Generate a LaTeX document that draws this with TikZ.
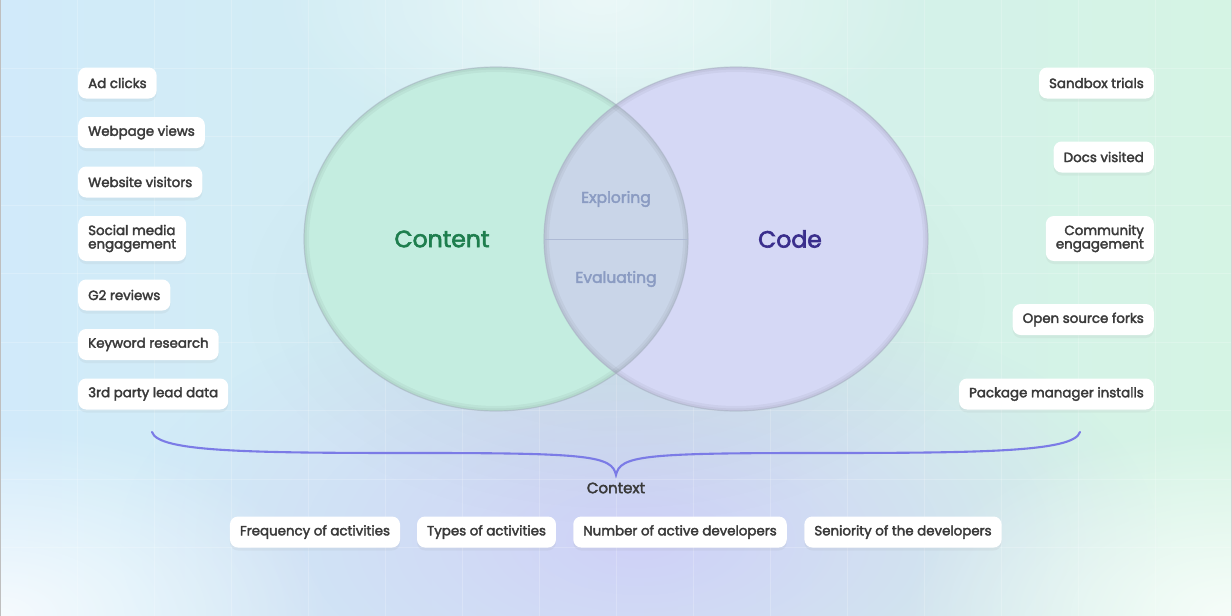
\documentclass[tikz,border=0pt]{standalone}
\usepackage{fontspec}
\setmainfont{Poppins}
\newfontfamily\medfont[FakeBold=2.6]{Poppins}
\usetikzlibrary{positioning,shadows,fadings}

\tikzfading[name=softblob, inner color=transparent!0, outer color=transparent!100]

\definecolor{bgblue}{HTML}{D1EAFA}
\definecolor{bggreen}{HTML}{D5F4E4}
\definecolor{bglav}{HTML}{CFCFF8}
\definecolor{contentfill}{HTML}{C4EDE0}
\definecolor{codefill}{HTML}{D5D8F5}
\definecolor{lensfill}{HTML}{C9D5E8}
\definecolor{rimgray}{HTML}{A3ADBD}
\definecolor{contentgreen}{HTML}{1E7E4E}
\definecolor{codeindigo}{HTML}{3A2E8C}
\definecolor{stagegray}{HTML}{8A9BC2}
\definecolor{tagtext}{HTML}{3A3A3A}
\definecolor{bracecol}{HTML}{7B7BE6}

\begin{document}
\begin{tikzpicture}[x=1pt, y=-1pt, >=stealth,
		tag/.style={fill=white, rounded corners=8pt, minimum height=31pt, inner xsep=10pt, inner ysep=3pt,
			font=\medfont\fontsize{13.4}{13.5}\selectfont, text=tagtext,
			drop shadow={opacity=0.08, shadow xshift=0pt, shadow yshift=-3pt}},
		tagtwo/.style={tag, minimum height=45pt},
		stage/.style={font=\medfont\fontsize{15.5}{16}\selectfont, text=stagegray},
		setname/.style={font=\medfont\fontsize{23.5}{26}\selectfont}]
	
	% --- 1. background ---
	\useasboundingbox (0,0) rectangle (1232,616);
	\shade[left color=bgblue, right color=bggreen] (0,0) rectangle (1232,616);
	\fill[white, opacity=0.55, path fading=softblob] (600,0) ellipse [x radius=330pt, y radius=160pt];
	\fill[bglav, opacity=0.95, path fading=softblob] (640,540) ellipse [x radius=520pt, y radius=260pt];
	\fill[white, opacity=0.8, path fading=softblob] (0,616) ellipse [x radius=330pt, y radius=190pt];
	\fill[white, opacity=0.8, path fading=softblob] (1232,616) ellipse [x radius=330pt, y radius=190pt];
	% faint grid
	\foreach \gx in {1,...,15}
		\draw[white, opacity=0.2, line width=0.8pt] (77*\gx,0) -- (77*\gx,616);
	\foreach \gy in {1,...,8}
		\draw[white, opacity=0.2, line width=0.8pt] (0,68.44*\gy) -- (1232,68.44*\gy);
	\draw[gray!50, line width=1.2pt] (0.6,0) -- (0.6,616);
	\draw[gray!35, line width=1pt] (1231.5,0) -- (1231.5,616);
	
	% --- 2. the two sets ---
	\coordinate (Cc) at (496,239);   % content centre
	\coordinate (Kc) at (736,239);   % code centre
	\fill[black, opacity=0.06, path fading=softblob] (616,300) ellipse [x radius=380pt, y radius=230pt];
	\fill[contentfill] (Cc) ellipse [x radius=192pt, y radius=172pt];
	\fill[codefill] (Kc) ellipse [x radius=192pt, y radius=172pt];
	\begin{scope}
		\clip (Cc) ellipse [x radius=192pt, y radius=172pt];
		\fill[lensfill] (Kc) ellipse [x radius=192pt, y radius=172pt];
	\end{scope}
	% soft inner rims
	\foreach \ctr in {Cc,Kc}{
		\begin{scope}
			\clip (\ctr) ellipse [x radius=192pt, y radius=172pt];
			\draw[black, opacity=0.04, line width=10pt] (\ctr) ellipse [x radius=192pt, y radius=172pt];
			\draw[black, opacity=0.04, line width=5pt] (\ctr) ellipse [x radius=192pt, y radius=172pt];
		\end{scope}
	}
	\draw[rimgray, opacity=0.5, line width=1.2pt] (Cc) ellipse [x radius=192pt, y radius=172pt];
	\draw[rimgray, opacity=0.5, line width=1.2pt] (Kc) ellipse [x radius=192pt, y radius=172pt];
	
	\node[setname, text=contentgreen] (content) at (442,239) {Content};
	\node[setname, text=codeindigo] (code) at (790,239) {Code};
	
	% lens split
	\coordinate (Lw) at (545,239);
	\coordinate (Le) at (688,239);
	\draw[stagegray!70, line width=1pt] (Lw) -- (Le);
	\node[stage] (exploring) at (616,199) {Exploring};
	\node[stage] (evaluating) at (616,279) {Evaluating};
	
	% --- 3. content signals (left) ---
	\node[tag, anchor=west] (adclicks) at (78,83) {Ad clicks};
	\node[tag, anchor=west] (webviews) at (78,132.5) {Webpage views};
	\node[tag, anchor=west] (visitors) at (78,182) {Website visitors};
	\node[tagtwo, anchor=west, align=left] (social) at (78,238.5) {Social media\\engagement};
	\node[tag, anchor=west] (gtwo) at (78,295) {G2 reviews};
	\node[tag, anchor=west] (keyword) at (78,344.5) {Keyword research};
	\node[tag, anchor=west] (leaddata) at (78,394) {3rd party lead data};
	
	% --- 4. code signals (right) ---
	\node[tag, anchor=east] (sandbox) at (1154,83) {Sandbox trials};
	\node[tag, anchor=east] (docs) at (1154,157) {Docs visited};
	\node[tagtwo, anchor=east, align=right] (community) at (1154,238.5) {Community\\engagement};
	\node[tag, anchor=east] (forks) at (1154,319.5) {Open source forks};
	\node[tag, anchor=east] (installs) at (1154,394) {Package manager installs};
	
	% --- 5. context brace ---
	\coordinate (Bl) at (152,432);
	\coordinate (Br) at (1080,432);
	\coordinate (Bt) at (616,475);
	\draw[bracecol, line width=2.1pt, line cap=round]
		(Bl) .. controls (158,452) and (250,453) .. (420,453)
		.. controls (590,453) and (612,456) .. (Bt)
		.. controls (620,456) and (642,453) .. (812,453)
		.. controls (982,453) and (1074,452) .. (Br);
	\node[font=\medfont\fontsize{15}{16}\selectfont, text=tagtext] (context) at (616,488) {Context};
	
	% --- 6. context tags ---
	\node[tag] (frequency) at (315,532) {Frequency of activities};
	\node[tag] (types) at (486.5,532) {Types of activities};
	\node[tag] (number) at (680,532) {Number of active developers};
	\node[tag] (seniority) at (903,532) {Seniority of the developers};
	
\end{tikzpicture}
\end{document}
